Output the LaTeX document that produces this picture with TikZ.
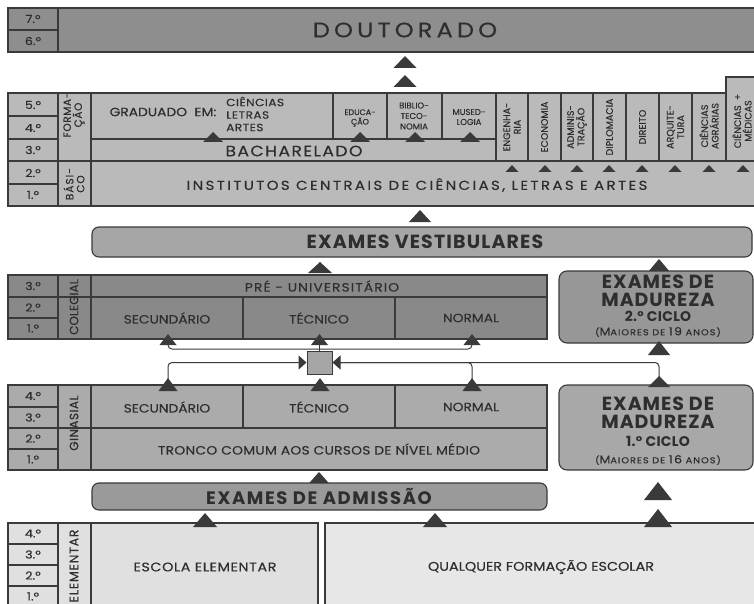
\documentclass[tikz,border=0pt]{standalone}
\usepackage{fontspec}
\setmainfont{Poppins}[UprightFeatures={FakeBold=0.35}]
\usetikzlibrary{arrows.meta}
\definecolor{lc}{HTML}{3A3A3A}
\definecolor{tc}{HTML}{2E2E2E}
\definecolor{cDout}{HTML}{8E8E8E}
\definecolor{cUni}{HTML}{BABABA}
\definecolor{cVest}{HTML}{A6A6A6}
\definecolor{cCol}{HTML}{898989}
\definecolor{cMadA}{HTML}{979797}
\definecolor{cMadB}{HTML}{A8A8A8}
\definecolor{cGin}{HTML}{ABABAB}
\definecolor{cAdm}{HTML}{9A9A9A}
\definecolor{cEle}{HTML}{E0E0E0}
\definecolor{cQual}{HTML}{E7E7E7}
\definecolor{cHub}{HTML}{A5A5A5}
\newcommand\uptri[4]{\fill[lc] (#1-#3/2,#2) -- (#1,#2-#4) -- (#1+#3/2,#2) -- cycle;}
\newcommand\fs[1]{\fontsize{#1}{#1}\selectfont}
\newcommand\ls[1]{\addfontfeature{LetterSpace=#1}}
\begin{document}
\begin{tikzpicture}[x=1pt,y=-1pt,
  box/.style={draw=lc,line width=1.1pt},
  ln/.style={draw=lc,line width=1.1pt},
  lbl/.style={text=tc,inner sep=0pt,align=center},
  wide/.style={lbl,xscale=1.15},
  yr/.style={wide,font=\fs{11}},
  rot/.style={lbl,rotate=90,font=\fontsize{9.5}{10.5}\selectfont},
  sm/.style={wide,font=\fs{12}},
  conn/.style={draw=lc,line width=1pt,rounded corners=4pt}]
\useasboundingbox (0,0) rectangle (754,604);
\clip (0,0) rectangle (754,604);
\fill[white] (0,0) rectangle (754,604);
% ---------------- DOUTORADO
\draw[box,fill=cDout] (8,8) rectangle (770,52);
\draw[ln] (58,8) -- (58,52) (8,30) -- (58,30);
\node[yr] (y7d) at (33,19) {7.º};
\node[yr] (y6d) at (33,41) {6.º};
\node[wide,font=\fs{21}\ls{17}] (dout) at (405,30) {DOUTORADO};
\uptri{405}{68}{23}{12}
\uptri{405}{87}{23}{12}
% ---------------- UNIVERSIDADE
\draw[box,fill=cUni] (8,93) rectangle (770,206);
\draw[box,fill=cUni] (726,77) rectangle (770,161);
\draw[ln] (58,93) -- (58,206) (91,93) -- (91,206);
\draw[ln] (8,116) -- (58,116) (8,139) -- (58,139) (8,184) -- (58,184);
\draw[ln] (8,161) -- (770,161);
\draw[ln] (91,139) -- (496,139);
\foreach \xx in {333,387,442} {\draw[ln] (\xx,93) -- (\xx,139);}
\foreach \xx in {496,528,561,593,626,659,692} {\draw[ln] (\xx,93) -- (\xx,161);}
\node[yr] (y5u) at (33,105) {5.º};
\node[yr] (y4u) at (33,128) {4.º};
\node[yr] (y3u) at (33,150) {3.º};
\node[yr] (y2u) at (33,173) {2.º};
\node[yr] (y1u) at (33,195) {1.º};
\node[rot,font=\fontsize{10.5}{11}\selectfont\ls{6}] (form) at (74,115) {FORMA-\\ÇÃO};
\node[rot,font=\fontsize{10.5}{11}\selectfont\ls{10}] (basi) at (74,184) {BÁSI-\\CO};
\node[wide,font=\fs{12}] (grad) at (163,112) {GRADUADO\ \ EM:};
\node[wide,anchor=west,align=left,font=\fontsize{10.5}{12.5}\selectfont\ls{4}] (cla) at (226,114) {CIÊNCIAS\\LETRAS\\ARTES};
\node[lbl,font=\fontsize{8}{9.5}\selectfont] (educ) at (360,118) {EDUCA-\\ÇÃO};
\node[lbl,font=\fontsize{8.5}{10.5}\selectfont] (bibl) at (414,116) {BIBLIO-\\TECO-\\NOMIA};
\node[lbl,font=\fontsize{8.5}{10}\selectfont] (muse) at (469,117) {MUSED-\\LOGIA};
\node[wide,font=\fs{15}\ls{8}] (bach) at (294,151) {BACHARELADO};
\node[rot] (eng) at (512,127) {ENGENHA-\\RIA};
\node[rot] (eco) at (544.5,127) {ECONOMIA};
\node[rot] (adm) at (577,127) {ADMINIS-\\TRAÇÃO};
\node[rot] (dip) at (609.5,127) {DIPLOMACIA};
\node[rot] (dir) at (642.5,127) {DIREITO};
\node[rot] (arq) at (675.5,127) {ARQUITE-\\TURA};
\node[rot] (agr) at (709,126) {CIÊNCIAS\\AGRÁRIAS};
\node[rot] (med) at (742,121) {CIÊNCIAS\ \ +\\MÉDICAS};
\node[wide,font=\fs{13}\ls{16}] (inst) at (417,185) {INSTITUTOS CENTRAIS DE CIÊNCIAS, LETRAS E ARTES};
\uptri{213}{142}{20}{10}
\uptri{360}{142}{20}{10}
\uptri{415}{142}{20}{10}
\uptri{470}{142}{20}{10}
\foreach \xx in {512,545,577,609,642,675,709,743} {\uptri{\xx}{172}{13}{7}}
\uptri{420}{222}{22}{12}
% ---------------- VESTIBULARES
\draw[box,rounded corners=7pt,fill=cVest] (92,227) rectangle (752,257);
\node[lbl,font=\bfseries\fs{19}\ls{6}] (vest) at (425,242) {EXAMES VESTIBULARES};
\uptri{320}{273}{24}{11}
\uptri{659}{272}{22}{13}
% ---------------- COLEGIAL
\draw[box,fill=cCol] (8,275) rectangle (547,339);
\draw[ln] (58,275) -- (58,339) (91,275) -- (91,339);
\draw[ln] (8,297) -- (547,297) (8,318) -- (58,318);
\draw[ln] (243,297) -- (243,339) (395,297) -- (395,339);
\node[yr] (y3c) at (33,286) {3.º};
\node[yr] (y2c) at (33,307.5) {2.º};
\node[yr] (y1c) at (33,328.5) {1.º};
\node[rot,font=\fs{12}] (coleg) at (74,307) {COLEGIAL};
\node[sm,font=\fs{12}\ls{8}] (preu) at (322,286) {PRÉ - UNIVERSITÁRIO};
\node[sm] (csec) at (167,318) {SECUNDÁRIO};
\node[sm] (ctec) at (319,318) {TÉCNICO};
\node[sm] (cnor) at (471,318) {NORMAL};
% ---------------- MADUREZA 2
\draw[box,rounded corners=8pt,fill=cMadA] (559,271) rectangle (753,343);
\node[lbl,font=\bfseries\fs{19}\ls{5}] (m2a) at (658,281.5) {EXAMES DE};
\node[lbl,font=\bfseries\fs{19}\ls{5}] (m2b) at (658,299.5) {MADUREZA};
\node[lbl,font=\bfseries\fs{14}\ls{2}] (m2c) at (658,316.5) {2.º CICLO};
\node[wide,font=\fs{8.5}\ls{10}] (m2d) at (658,332) {({\fs{11}M}AIORES DE {\fs{11}19} ANOS)};
\uptri{659}{355}{22}{14}
% ---------------- HUB / CONNECTORS
\node[draw=lc,fill=cHub,line width=1pt,minimum width=25pt,minimum height=23pt,inner sep=0pt] (hub) at (319.5,362.5) {};
\coordinate (tCs) at (168,345);
\coordinate (tCt) at (319.5,345);
\coordinate (tCn) at (472,345);
\coordinate (tGs) at (168,380);
\coordinate (tGn) at (472,380);
\coordinate (tM1) at (659,378);
\draw[conn] (tCs) -- (168,349) -- (472,349) -- (tCn);
\draw[conn] (hub.north) -- (tCt);
\draw[conn,-{Triangle[length=8pt,width=14pt]}] (tGs) |- (hub.west);
\draw[conn] (tGn) |- (hub.east);
\draw[conn,-{Triangle[length=8pt,width=14pt]}] (tM1) |- (hub.east);
\uptri{168}{345}{17}{11}
\uptri{319.5}{345}{17}{11}
\uptri{472}{345}{17}{11}
% ---------------- GINASIAL
\draw[box,fill=cGin] (8,385) rectangle (547,470);
\draw[ln] (58,385) -- (58,470) (91,385) -- (91,470);
\draw[ln] (8,407) -- (58,407) (8,428) -- (547,428) (8,449) -- (58,449);
\draw[ln] (243,385) -- (243,428) (395,385) -- (395,428);
\node[yr] (y4g) at (33,396) {4.º};
\node[yr] (y3g) at (33,417.5) {3.º};
\node[yr] (y2g) at (33,438.5) {2.º};
\node[yr] (y1g) at (33,459.5) {1.º};
\node[rot,font=\fs{12}\ls{4}] (gina) at (74,423) {GINASIAL};
\node[sm] (gsec) at (167,407) {SECUNDÁRIO};
\node[sm] (gtec) at (319,407) {TÉCNICO};
\node[sm] (gnor) at (471,407) {NORMAL};
\node[sm,font=\fs{12}\ls{2}] (tron) at (319,449) {TRONCO COMUM AOS CURSOS DE NÍVEL MÉDIO};
\uptri{168}{391}{19}{13}
\uptri{320}{391}{19}{13}
\uptri{472}{391}{19}{13}
% ---------------- MADUREZA 1
\draw[box,rounded corners=8pt,fill=cMadB] (559,385) rectangle (753,470);
\node[lbl,font=\bfseries\fs{19}\ls{5}] (m1a) at (658,403.5) {EXAMES DE};
\node[lbl,font=\bfseries\fs{19}\ls{5}] (m1b) at (658,421.5) {MADUREZA};
\node[lbl,font=\bfseries\fs{14}\ls{2}] (m1c) at (658,441) {1.º CICLO};
\node[wide,font=\fs{8.5}\ls{10}] (m1d) at (658,460) {({\fs{11}M}AIORES DE {\fs{11}16} ANOS)};
\uptri{659}{387}{22}{11}
\uptri{319}{485}{23}{13}
% ---------------- ADMISSAO
\draw[box,rounded corners=7pt,fill=cAdm] (92,483) rectangle (547,510);
\node[lbl,font=\bfseries\fs{18}\ls{9}] (adm2) at (319,496) {EXAMES DE ADMISSÃO};
\uptri{658}{500}{28}{18}
% ---------------- ELEMENTAR
\draw[box,fill=cEle] (8,523) rectangle (318,620);
\draw[box,fill=cQual] (325,523) rectangle (770,620);
\draw[ln] (58,523) -- (58,620) (91,523) -- (91,620);
\draw[ln] (8,544) -- (58,544) (8,565) -- (58,565) (8,586) -- (58,586);
\node[yr] (y4e) at (33,533.5) {4.º};
\node[yr] (y3e) at (33,554.5) {3.º};
\node[yr] (y2e) at (33,575.5) {2.º};
\node[yr] (y1e) at (33,596.5) {1.º};
\node[rot,font=\fs{12.5}\ls{6}] (elem) at (74,566) {ELEMENTAR};
\node[sm,font=\fs{12.5}\ls{4}] (esc) at (205,567) {ESCOLA ELEMENTAR};
\node[sm,font=\fs{12.5}] (qual) at (541,567) {QUALQUER FORMAÇÃO ESCOLAR};
\uptri{205}{527}{24}{14}
\uptri{435}{527}{24}{14}
\uptri{658}{527}{28}{18}
\end{tikzpicture}
\end{document}
